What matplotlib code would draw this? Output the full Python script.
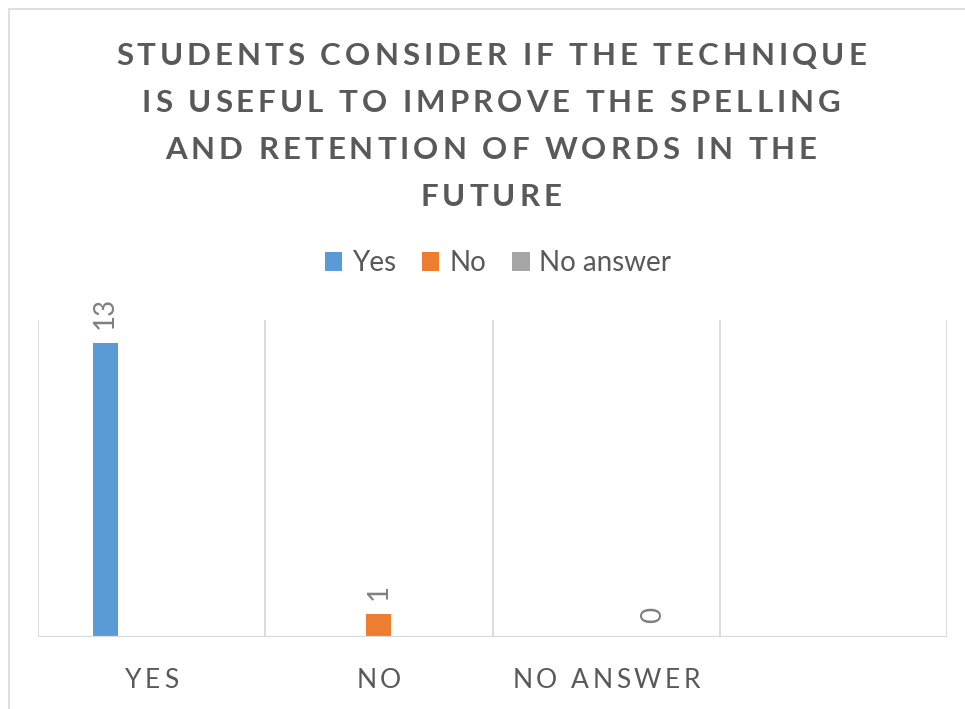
import matplotlib
matplotlib.use("Agg")
import matplotlib.pyplot as plt
from matplotlib.patches import Rectangle, Patch
from matplotlib.font_manager import FontProperties
from matplotlib.textpath import TextToPath
import numpy as np

# ---- data -------------------------------------------------------------
categories = ["YES", "NO", "NO ANSWER", ""]
series_names = ["Yes", "No", "No answer"]
yes_values = [13, None, None, None]
no_values = [None, 1, None, None]
no_answer_values = [None, None, 0, None]
series_values = [yes_values, no_values, no_answer_values]
series_colors = ["#5B9BD5", "#ED7D31", "#A5A5A5"]
title_lines = [
    "STUDENTS CONSIDER IF THE TECHNIQUE",
    "IS USEFUL TO IMPROVE THE SPELLING",
    "AND RETENTION OF WORDS IN THE",
    "FUTURE",
]

W, H, DPI = 965, 709, 100
TEXT = "#595959"
GRID = "#D9D9D9"
FONT = "Lato"
plt.rcParams["font.family"] = [FONT, "DejaVu Sans"]

fig = plt.figure(figsize=(W / DPI, H / DPI), dpi=DPI)
fig.patch.set_facecolor("white")

# chart-area border
fig.patches.append(Rectangle((8.5 / W, -0.1), 1.2, 1.1 - 8.5 / H,
                             transform=fig.transFigure, fill=False,
                             edgecolor=GRID, linewidth=1.2))

_t2p = TextToPath()


def spaced_text(s, xc, baseline, size, track, weight="normal", color=TEXT):
    """Draw a string centred at xc (pixels) with extra letter spacing."""
    prop = FontProperties(family=FONT, size=size, weight=weight)
    px = DPI / 72.0
    widths = [_t2p.get_text_width_height_descent(c, prop, ismath=False)[0] * px
              for c in s]
    total = sum(widths) + track * (len(s) - 1)
    x = xc - total / 2
    for c, w in zip(s, widths):
        fig.text(x / W, 1 - baseline / H, c, fontproperties=prop,
                 color=color, ha="left", va="baseline")
        x += w + track


# ---- title -------------------------------------------------------------
for i, line in enumerate(title_lines):
    spaced_text(line, 491, 65 + 47 * i, 22.5, 4.0, weight="bold")

# ---- axes --------------------------------------------------------------
left, right, top, bottom = 38, 947, 320, 637
ax = fig.add_axes([left / W, 1 - bottom / H, (right - left) / W, (bottom - top) / H])
ax.set_xlim(-0.5, len(categories) - 0.5)
ax.set_ylim(0, 14)
for sp in ax.spines.values():
    sp.set_visible(False)
ax.set_yticks([])
ax.set_xticks([])

for xg in np.arange(-0.5, len(categories), 1.0):
    ax.axvline(xg, color=GRID, linewidth=1.3, zorder=0)
ax.axhline(0, color=GRID, linewidth=1.6, zorder=3)

x = np.arange(len(categories))
bar_w = 0.11
offsets = [-0.205, 0.0, 0.205]
handles = []
for vals, off, col, name in zip(series_values, offsets, series_colors, series_names):
    for xi, v in zip(x, vals):
        if v is None:
            continue
        ax.bar(xi + off, v, width=bar_w, color=col, zorder=2)
        ax.annotate(str(v), (xi + off, v), xytext=(0, 10), textcoords="offset points",
                    rotation=90, ha="center", va="bottom", fontsize=20,
                    color="#808080", family=FONT)
    handles.append(Patch(facecolor=col, edgecolor="none", label=name))

# category labels
for xi, cat in zip(x, categories):
    if not cat:
        continue
    xc = ax.transData.transform((xi, 0))[0]
    spaced_text(cat, xc, 688, 19, 3.5)

# ---- legend ------------------------------------------------------------
fig.legend(handles=handles, loc="center", bbox_to_anchor=(498 / W, 1 - 263 / H),
           ncol=3, frameon=False, fontsize=20, labelcolor=TEXT,
           handlelength=0.62, handleheight=0.68, handletextpad=0.35,
           columnspacing=0.95)

fig.savefig("out.png", dpi=DPI, facecolor="white")
